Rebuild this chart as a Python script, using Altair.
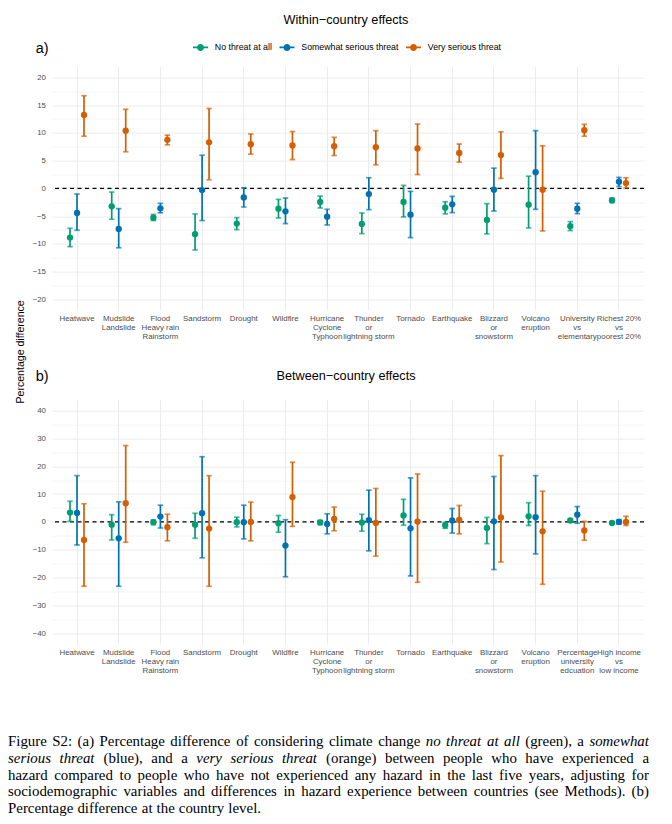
import altair as alt
import pandas as pd

# ---------------- data ----------------
groups = ["No threat at all", "Somewhat serious threat", "Very serious threat"]
colors = ["#009E73", "#0072B2", "#D55E00"]

cats_a = ["Heatwave", "Mudslide\nLandslide", "Flood\nHeavy rain\nRainstorm", "Sandstorm",
          "Drought", "Wildfire", "Hurricane\nCyclone\nTyphoon", "Thunder\nor\nlightning storm",
          "Tornado", "Earthquake", "Blizzard\nor\nsnowstorm", "Volcano\neruption",
          "University\nvs\nelementary", "Richest 20%\nvs\npoorest 20%"]
cats_b = cats_a[:12] + ["Percentage\nuniversity\nedcuation", "High income\nvs\nlow income"]

# panel a: within-country effects
a_green_est = [-8.87, -3.23, -5.27, -8.27, -6.35, -3.65, -2.46, -6.41, -2.46, -3.47, -5.69, -2.94, -6.83, -2.16]
a_green_lo = [-10.5, -5.57, -5.8, -11.1, -7.43, -5.33, -3.53, -8.15, -5.15, -4.6, -8.2, -7.13, -7.6, -2.57]
a_green_hi = [-7.19, -0.66, -4.7, -4.6, -5.27, -1.98, -1.38, -4.43, 0.54, -2.4, -2.75, 2.2, -5.99, -1.74]
a_blue_est = [-4.43, -7.3, -3.59, -0.3, -1.62, -4.13, -5.09, -1.02, -4.73, -2.88, -0.25, 2.93, -3.65, 1.2]
a_blue_lo = [-7.55, -10.7, -4.4, -5.8, -3.35, -6.35, -6.59, -3.83, -8.87, -4.37, -4.07, -3.77, -4.55, 0.35]
a_blue_hi = [-1.02, -3.65, -2.7, 5.98, 0.12, -1.74, -3.77, 1.92, -0.54, -1.44, 3.65, 10.4, -2.7, 1.98]
a_orange_est = [13.24, 10.4, 8.75, 8.3, 7.97, 7.73, 7.6, 7.43, 7.19, 6.4, 6.0, -0.25, 10.5, 0.96]
a_orange_lo = [9.4, 6.6, 7.85, 1.55, 6.17, 5.2, 5.93, 4.25, 2.5, 4.73, 1.8, -7.67, 9.4, 0.1]
a_orange_hi = [16.7, 14.25, 9.6, 14.4, 9.8, 10.24, 9.2, 10.4, 11.6, 8.0, 10.2, 7.67, 11.55, 1.92]

# panel b: between-country effects
b_green_est = [3.35, -1.0, -0.1, -1.0, -0.1, -0.5, -0.2, -0.2, 2.3, -1.2, -2.2, 2.0, 0.5, -0.4]
b_green_lo = [0.2, -6.5, -1.0, -5.9, -1.8, -3.7, -1.0, -3.35, -1.2, -2.3, -7.8, -1.3, -0.1, -0.7]
b_green_hi = [7.4, 2.6, 0.7, 3.1, 1.7, 2.3, 0.5, 2.75, 8.1, -0.2, 1.6, 6.9, 1.0, 0.0]
b_blue_est = [3.2, -5.9, 1.9, 3.1, -0.1, -8.5, -0.8, 0.6, -2.3, 0.5, 0.2, 1.7, 2.6, 0.0]
b_blue_lo = [-8.3, -23.1, -2.2, -12.9, -6.1, -19.7, -4.3, -10.4, -19.4, -4.0, -17.1, -11.5, -0.5, -0.8]
b_blue_hi = [16.6, 7.2, 6.0, 23.4, 6.0, 0.8, 2.9, 11.4, 15.8, 4.8, 16.3, 16.6, 5.5, 0.8]
b_orange_est = [-6.5, 6.7, -1.9, -2.4, 0.0, 8.9, 1.1, -0.4, 0.1, 0.7, 1.6, -3.4, -3.1, 0.0]
b_orange_lo = [-23.1, -7.3, -6.8, -23.1, -6.8, -1.6, -3.2, -12.3, -21.7, -4.3, -14.4, -22.4, -6.6, -1.3]
b_orange_hi = [6.5, 27.4, 2.75, 16.6, 7.1, 21.4, 5.3, 12.0, 17.2, 5.9, 23.8, 11.0, 0.2, 2.0]

caption_lines = [
    "Figure S2: (a) Percentage difference of considering climate change _no threat at all_ (green), a _somewhat_",
    "_serious threat_ (blue), and a _very serious threat_ (orange) between people who have experienced a",
    "hazard compared to people who have not experienced any hazard in the last five years, adjusting for",
    "sociodemographic variables and differences in hazard experience between countries (see Methods). (b)",
    "Percentage difference at the country level.",
]


def make_df(cats, series):
    rows = []
    for g, (est, lo, hi) in zip(groups, series):
        for c, e, l, h in zip(cats, est, lo, hi):
            rows.append({"cat": c, "grp": g, "est": e, "lo": l, "hi": h})
    return pd.DataFrame(rows)


df_a = make_df(cats_a, [(a_green_est, a_green_lo, a_green_hi),
                        (a_blue_est, a_blue_lo, a_blue_hi),
                        (a_orange_est, a_orange_lo, a_orange_hi)])
df_b = make_df(cats_b, [(b_green_est, b_green_lo, b_green_hi),
                        (b_blue_est, b_blue_lo, b_blue_hi),
                        (b_orange_est, b_orange_lo, b_orange_hi)])

SANS = "Liberation Sans"
SERIF = "Liberation Serif"
W = 592
STEP = W / 14.2  # band step with paddingOuter 0.1, paddingInner 0

legend_path = ("M-1,-0.113L1,-0.113L1,0.113L-1,0.113Z "
               "M0.467,0A0.467,0.467,0,1,1,-0.467,0A0.467,0.467,0,1,1,0.467,0Z")


def panel(df, cats, dom, major, minor, height, title, tag, title_y, tag_y, show_legend, extra=None):
    yvals = sorted(major + minor)
    step = major[1] - major[0]
    test = f"datum.value % {step} === 0"
    yaxis = alt.Axis(
        values=yvals, title=None, ticks=False, domain=False,
        labelExpr=f"{test} ? datum.label : ''",
        labelFont=SANS, labelFontSize=7.9, labelColor="#4D4D4D", labelPadding=6.5,
        gridColor="#EBEBEB",
        gridWidth={"condition": {"test": test, "value": 1.0}, "value": 0.55},
    )
    yscale = alt.Scale(domain=dom, nice=False, zero=False)

    def Y(field):
        return alt.Y(f"{field}:Q", scale=yscale, axis=yaxis)

    x = alt.X("cat:N", sort=cats,
              scale=alt.Scale(paddingInner=0, paddingOuter=0.1),
              axis=alt.Axis(title=None, ticks=False, domain=False, labelAngle=0,
                            labelExpr="split(datum.label, '\\n')", labelLineHeight=8.7,
                            labelBaseline="top", labelAlign="center", labelPadding=5,
                            labelFont=SANS, labelFontSize=7.9, labelColor="#4D4D4D",
                            labelOverlap=False, labelBound=False, labelLimit=200,
                            grid=True, gridColor="#EBEBEB", gridWidth=1.0, bandPosition=0.5))
    xo = alt.XOffset("grp:N", sort=groups,
                     scale=alt.Scale(type="point", domain=groups, padding=0,
                                     range=[STEP / 2 - 7, STEP / 2 + 7]))
    if show_legend:
        leg = alt.Legend(title=None, orient="none", legendX=141, legendY=-27, direction="horizontal",
                         symbolType=legend_path, symbolSize=225, symbolStrokeWidth=0,
                         labelFont=SANS, labelFontSize=8.8, labelColor="black",
                         labelOffset=6.8, columnPadding=6.5, padding=0)
    else:
        leg = None
    col = alt.Color("grp:N", scale=alt.Scale(domain=groups, range=colors), legend=leg)

    base = alt.Chart(df)
    zero = alt.Chart(pd.DataFrame({"z": [0]})).mark_rule(
        color="black", strokeDash=[4, 3.5], strokeWidth=1.1).encode(y=Y("z"))
    pts = base.mark_circle(size=40, opacity=1).encode(x=x, xOffset=xo, y=Y("est"), color=col)
    bars = base.mark_rule(strokeWidth=1.7).encode(x=x, xOffset=xo, y=Y("lo"), y2="hi:Q", color=col)
    cap_lo = base.mark_tick(size=5.5, thickness=1.7).encode(x=x, xOffset=xo, y=Y("lo"), color=col)
    cap_hi = base.mark_tick(size=5.5, thickness=1.7).encode(x=x, xOffset=xo, y=Y("hi"), color=col)

    ttl = alt.Chart(pd.DataFrame({"t": [title]})).mark_text(
        font=SANS, fontSize=12.7, align="center", baseline="middle", color="black"
    ).encode(x=alt.value(294), y=alt.value(title_y), text="t:N")
    tg = alt.Chart(pd.DataFrame({"t": [tag]})).mark_text(
        font=SANS, fontSize=14.5, align="left", baseline="middle", color="black"
    ).encode(x=alt.value(-16.3), y=alt.value(tag_y), text="t:N")
    layers = [zero, pts, bars, cap_lo, cap_hi, ttl, tg]
    if extra is not None:
        layers.append(extra)
    return alt.layer(*layers).properties(width=W, height=height)


ytitle = alt.Chart(pd.DataFrame({"t": ["Percentage difference"]})).mark_text(
    font=SANS, fontSize=10.6, angle=270, align="center", baseline="middle", color="black"
).encode(x=alt.value(-31.5), y=alt.value(285.3), text="t:N")

pa = panel(df_a, cats_a, [-21.9, 21.95], list(range(-20, 21, 5)),
           [v + 2.5 for v in range(-20, 20, 5)], 243.3,
           "Within\u2212country effects", "a)", -46.7, -17.2, True, extra=ytitle)
pb = panel(df_b, cats_b, [-43.8, 43.9], list(range(-40, 41, 10)),
           [v + 5 for v in range(-40, 40, 10)], 244.3,
           "Between\u2212country effects", "b)", -24, -22.3, False)

# ---------------- caption (justified, Times metrics) ----------------
REG = dict(a=444, b=500, c=444, d=500, e=444, f=333, g=500, h=500, i=278, j=278, k=500, l=278,
           m=778, n=500, o=500, p=500, q=500, r=333, s=389, t=278, u=500, v=500, w=722, x=500,
           y=500, z=444)
REG.update({"F": 556, "S": 556, "M": 889, "P": 556, "(": 333, ")": 333, ",": 250, ".": 250,
            ":": 278, "2": 500})
ITA = dict(a=500, b=500, c=444, d=500, e=444, f=278, g=500, h=500, i=278, j=278, k=444, l=278,
           m=722, n=500, o=500, p=500, q=500, r=389, s=389, t=278, u=500, v=444, w=667, x=444,
           y=444, z=389)

FS = 14.9
LEFT, TARGET = -44, 641
rows = []
for li, line in enumerate(caption_lines):
    words = []
    ital = False
    for tok in line.split(" "):
        if tok.startswith("_"):
            ital = True
        wtxt = tok.strip("_")
        words.append((wtxt, ital))
        if tok.endswith("_"):
            ital = False
    widths = [sum((ITA if it else REG).get(ch, 500) for ch in wd) / 1000 * FS for wd, it in words]
    if li < len(caption_lines) - 1:
        gap = (TARGET - sum(widths)) / (len(words) - 1)
    else:
        gap = 0.27 * FS
    xpos = LEFT
    for (wd, it), wdt in zip(words, widths):
        rows.append({"w": wd, "it": it, "px": xpos, "py": 12.9 + li * 16.65})
        xpos += wdt + gap
cap_df = pd.DataFrame(rows)

cap_base = alt.Chart(cap_df).encode(
    x=alt.X("px:Q", scale=None, axis=None), y=alt.Y("py:Q", scale=None, axis=None), text="w:N")
cap_reg = cap_base.transform_filter("!datum.it").mark_text(
    font=SERIF, fontSize=FS, align="left", baseline="alphabetic", color="black")
cap_ita = cap_base.transform_filter("datum.it").mark_text(
    font=SERIF, fontSize=FS, fontStyle="italic", align="left", baseline="alphabetic", color="black")
cap = alt.layer(cap_reg, cap_ita).properties(width=W, height=80)

chart = alt.vconcat(pa, pb, cap, spacing=89, bounds="flush").resolve_scale(
    x="independent", y="independent", color="independent"
).properties(
    padding={"left": 0, "top": 5.6, "right": 0, "bottom": 0}
).configure_view(stroke=None).configure_axis(labelFont=SANS)

chart.save("out.html", embed_options={"renderer": "svg", "actions": False})
